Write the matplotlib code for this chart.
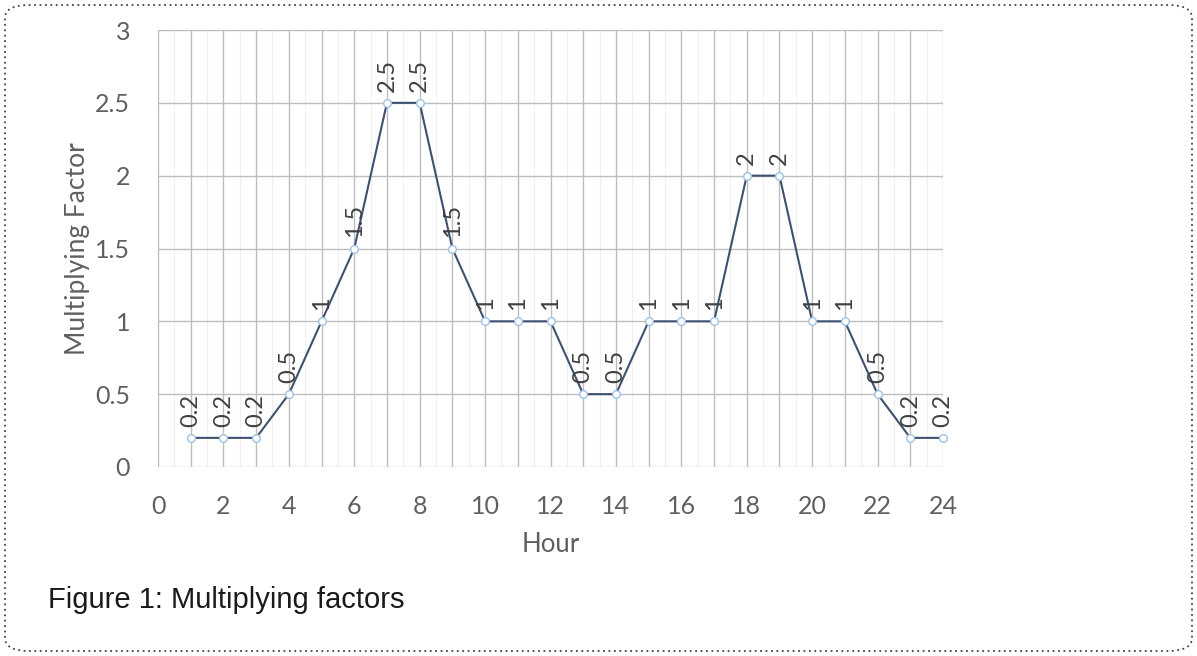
import matplotlib
matplotlib.use("Agg")
import matplotlib.pyplot as plt
from matplotlib.patches import FancyBboxPatch
from matplotlib.ticker import MultipleLocator

hours = list(range(1, 25))
factors = [0.2, 0.2, 0.2, 0.5, 1, 1.5, 2.5, 2.5, 1.5, 1, 1, 1,
           0.5, 0.5, 1, 1, 1, 2, 2, 1, 1, 0.5, 0.2, 0.2]
x_ticks = list(range(0, 25))
x_tick_labels = [str(h) if h % 2 == 0 else "" for h in x_ticks]
y_ticks = [0, 0.5, 1, 1.5, 2, 2.5, 3]
y_tick_labels = ["0", "0.5", "1", "1.5", "2", "2.5", "3"]

plt.rcParams["font.family"] = ["Lato", "DejaVu Sans"]

W, H = 1197, 656
fig = plt.figure(figsize=(W / 100, H / 100), dpi=100)
fig.patch.set_facecolor("white")

# dotted rounded border
border = FancyBboxPatch((5 / W, 5 / H), (W - 10) / W, (H - 10) / H,
                        boxstyle="round,pad=0,rounding_size=0.02",
                        transform=fig.transFigure, fill=False,
                        edgecolor="#444444", linestyle=(0, (1, 2)), linewidth=1.3)
fig.patches.append(border)

left, right, top, bottom = 158, 943, 30, 467
ax = fig.add_axes([left / W, 1 - bottom / H, (right - left) / W, (bottom - top) / H])
ax.set_xlim(0, 24)
ax.set_ylim(0, 3)

ax.xaxis.set_minor_locator(MultipleLocator(0.5))
ax.grid(which="major", color="#BDBDBD", linewidth=1.0)
ax.grid(which="minor", axis="x", color="#F0F0F0", linewidth=0.8)
ax.set_axisbelow(True)
for s in ax.spines.values():
    s.set_visible(False)

ax.set_xticks(x_ticks)
ax.set_xticklabels(x_tick_labels)
ax.set_yticks(y_ticks)
ax.set_yticklabels(y_tick_labels)
ax.tick_params(which="both", length=0, labelsize=18, labelcolor="#606060")
ax.tick_params(axis="x", pad=20)
ax.tick_params(axis="y", pad=20)

ax.plot(hours, factors, color="#3F5170", linewidth=1.5,
        marker="o", markersize=5.5, markerfacecolor="white",
        markeredgecolor="#9DC3E6", markeredgewidth=1.0, clip_on=False, zorder=3)

for h, v in zip(hours, factors):
    ax.annotate(f"{v:g}", (h, v), xytext=(0, 8), textcoords="offset points",
                rotation=90, ha="center", va="bottom", fontsize=17,
                color="#404040", annotation_clip=False)

ax.set_xlabel("Hour", fontsize=18.5, color="#606060", labelpad=10)
ax.set_ylabel("Multiplying Factor", fontsize=19, color="#606060", labelpad=4)

fig.text(48 / W, 1 - 600 / H, "Figure 1: Multiplying factors", fontsize=21,
         family="Liberation Sans", color="#1a1a1a", va="center", ha="left")

fig.savefig("out.png", dpi=100)
